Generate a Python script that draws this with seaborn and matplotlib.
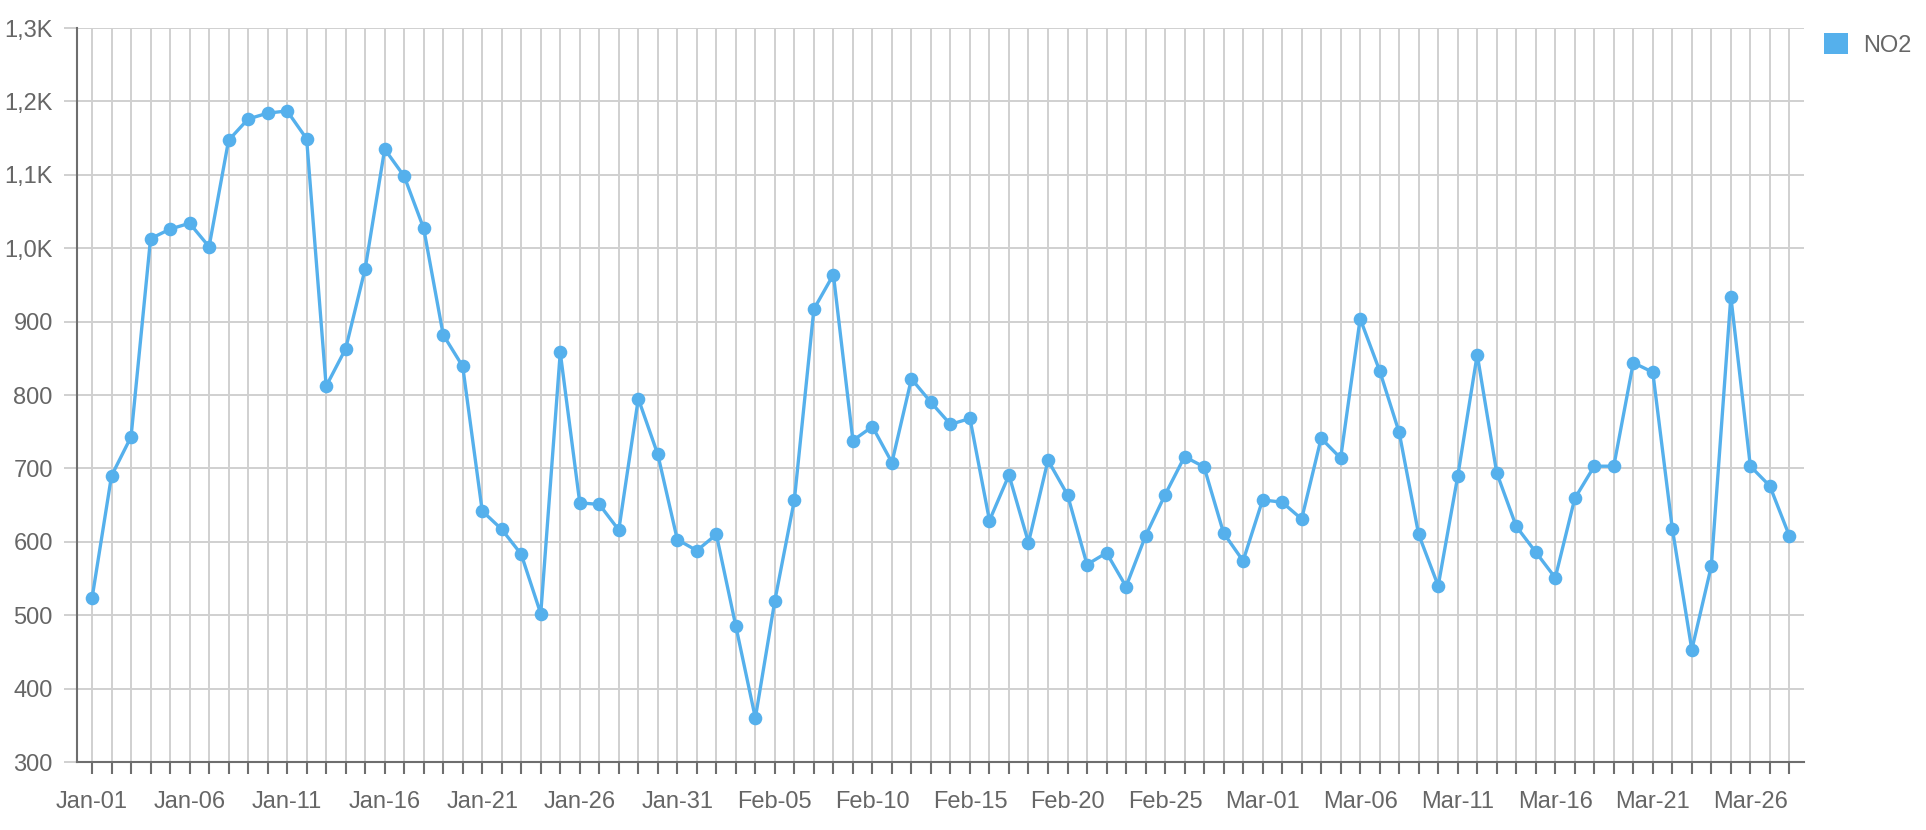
import pandas as pd
import numpy as np
import matplotlib
matplotlib.use("Agg")
import matplotlib.pyplot as plt
import seaborn as sns
from matplotlib.patches import Patch
from matplotlib.ticker import FuncFormatter

# daily NO2 values, 2020-01-01 .. 2020-03-28
dates = pd.date_range("2020-01-01", "2020-03-28", freq="D")
no2 = [
    523, 690, 743, 1013, 1026, 1034, 1002, 1147, 1176, 1184, 1187, 1149, 812,
    863, 972, 1135, 1098, 1027, 882, 839, 642, 617, 583, 502, 858, 653, 651,
    616, 795, 719, 603,
    588, 610, 485, 360, 520, 657, 917, 964, 738, 757, 708, 822, 790, 760, 768,
    629, 691, 599, 711, 664, 569, 585, 539, 608, 664, 716, 702, 612, 574,
    657, 654, 631, 741, 714, 904, 833, 749, 610, 540, 689, 855, 694, 621, 586,
    551, 659, 703, 703, 844, 831, 618, 453, 567, 934, 703, 676, 608,
]
day_labels = [d.strftime("%b-%d") for d in dates]

blue = "#55b0ec"
grid_c = "#d0d0d0"
axis_c = "#6e6e6e"
text_c = "#666666"

df = pd.DataFrame({"idx": np.arange(len(no2)), "NO2": no2})

sns.set_style("white")
plt.rcParams["font.family"] = ["Liberation Sans", "DejaVu Sans"]

fig = plt.figure(figsize=(19.26, 8.30), dpi=100)
ax = fig.add_axes([77 / 1926, 1 - 762 / 830, (1804 - 77) / 1926, (762 - 28) / 830])

sns.lineplot(data=df, x="idx", y="NO2", ax=ax, color=blue, linewidth=2.4,
             marker="o", markersize=9.8, markeredgewidth=0, zorder=3, legend=False)

ax.set_xlim(-0.77, len(no2) - 1 + 0.75)
ax.set_ylim(300, 1300)

ax.set_xticks(df["idx"])
ax.set_xticklabels([lab if i % 5 == 0 else "" for i, lab in enumerate(day_labels)])
ax.set_yticks(np.arange(300, 1301, 100))
ax.yaxis.set_major_formatter(FuncFormatter(
    lambda v, p: f"{v / 1000:.1f}K".replace(".", ",") if v >= 1000 else f"{int(v)}"))

ax.grid(True, color=grid_c, linewidth=1.4, zorder=0)
ax.set_axisbelow(True)

for s in ["top", "right"]:
    ax.spines[s].set_visible(False)
for s in ["left", "bottom"]:
    ax.spines[s].set_color(axis_c)
    ax.spines[s].set_linewidth(1.5)

ax.tick_params(axis="x", length=8.6, width=1.5, color=axis_c, labelcolor=text_c,
               labelsize=17, pad=12, bottom=True)
ax.tick_params(axis="y", length=9.4, width=1.4, color=grid_c, labelcolor=text_c,
               labelsize=17, pad=8, left=True)
ax.yaxis.get_major_ticks()[0].tick1line.set_color(axis_c)

ax.set_xlabel("")
ax.set_ylabel("")

handle = Patch(facecolor=blue, edgecolor="none", label="NO2")
fig.legend(handles=[handle], loc="upper left", bbox_to_anchor=(1824 / 1926, 1 - 33 / 830),
           frameon=False, fontsize=17, handlelength=1.0, handleheight=1.0,
           handletextpad=0.65, borderpad=0, borderaxespad=0, labelcolor=text_c)

fig.savefig("out.png", dpi=100)
